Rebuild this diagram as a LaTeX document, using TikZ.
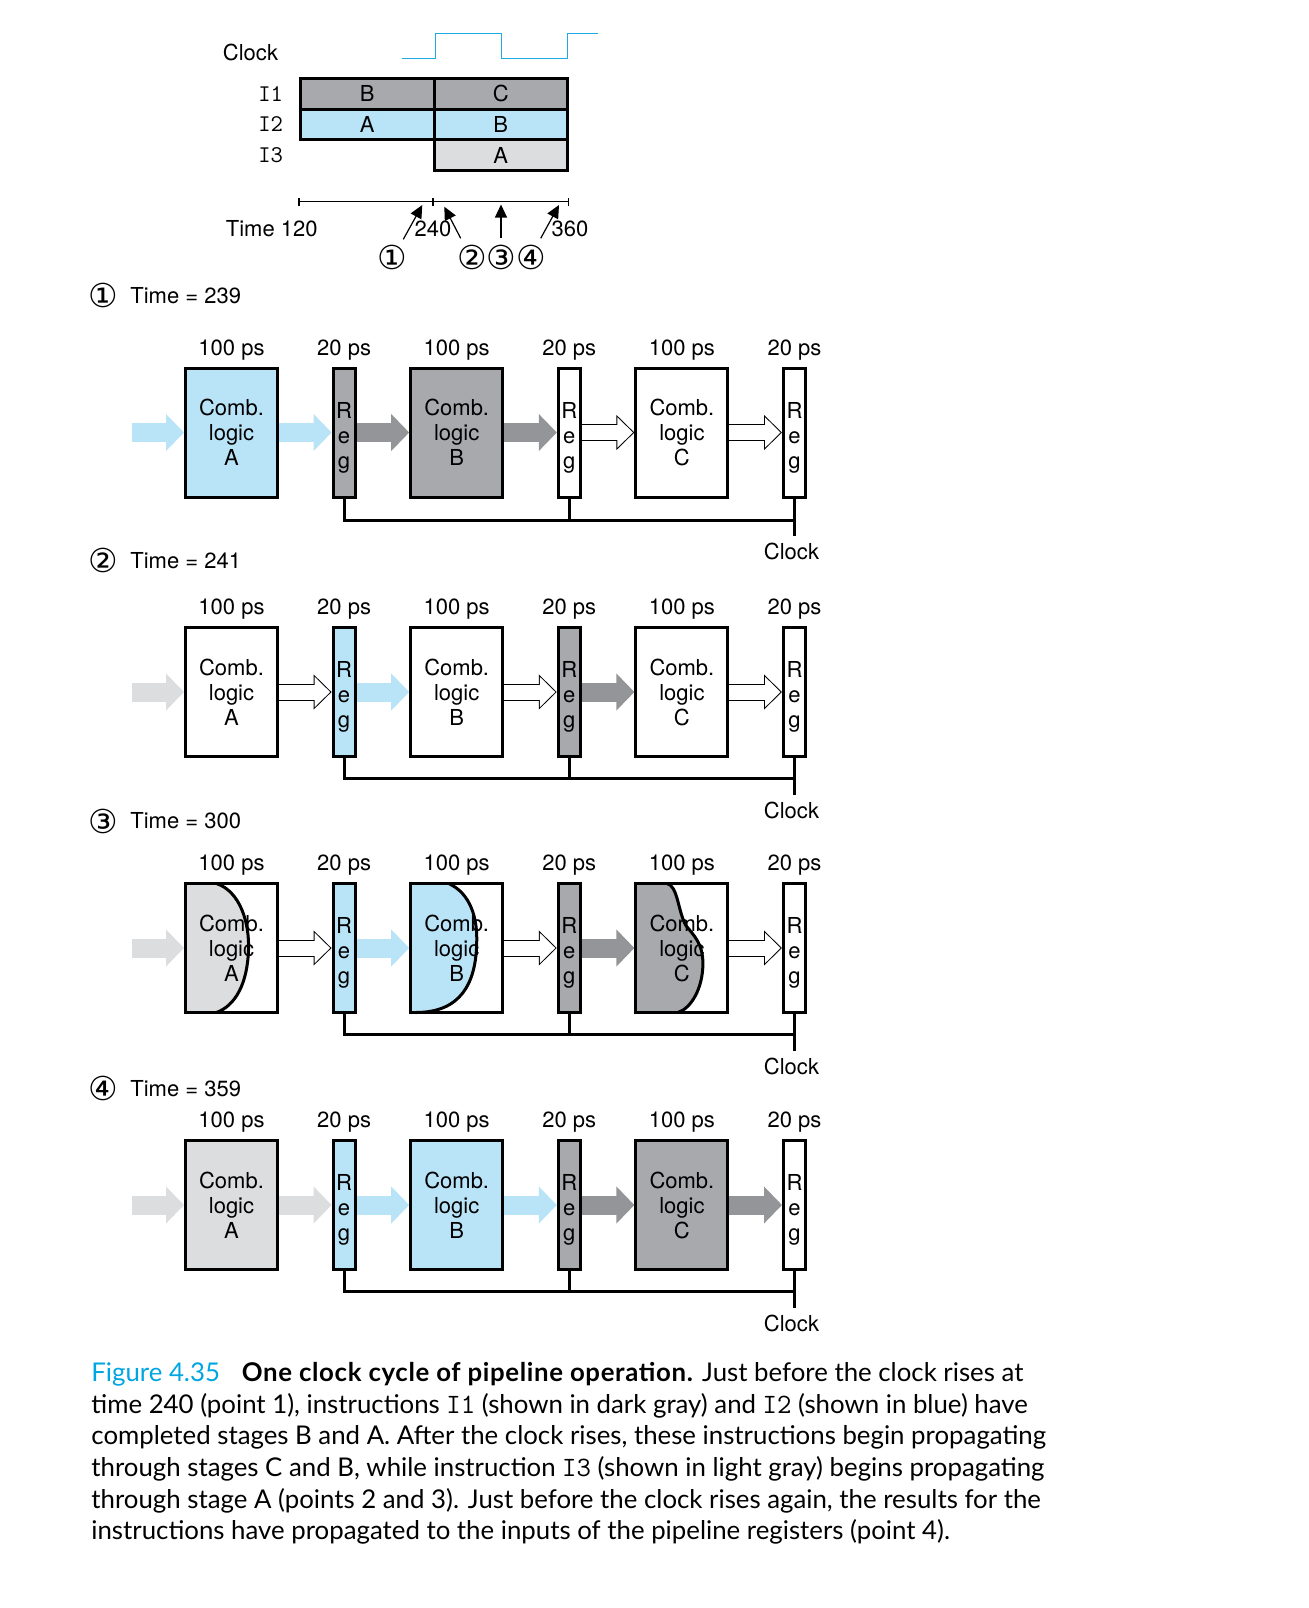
\documentclass[tikz,border=0pt]{standalone}
\usepackage{fontspec}
\setmainfont{TeX Gyre Heros}
\newfontfamily\capfont{Lato}
\newfontfamily\circfont{DejaVu Sans}
\usepackage{tikz}
\usetikzlibrary{positioning,arrows.meta,backgrounds}
\definecolor{lblue}{RGB}{185,228,248}
\definecolor{dgray}{RGB}{167,169,172}
\definecolor{darrow}{RGB}{147,149,152}
\definecolor{lgray}{RGB}{220,221,222}
\definecolor{wave}{RGB}{30,170,226}
\definecolor{figblue}{RGB}{0,166,226}
\newcommand{\insn}[1]{{\ttfamily\fontsize{14}{15.8}\selectfont #1}}
\newcommand{\regtxt}{\rule{0pt}{13pt}R\\e\\g}
\tikzstyle{lbl} = [inner sep=0pt, label distance=3pt]
\tikzstyle{comb} = [draw, rectangle, line width=1.5pt, fill=white, minimum width=46pt, minimum height=64.5pt, align=center, label={[lbl]above:100 ps}]
\tikzstyle{reg} = [draw, rectangle, line width=1.5pt, fill=white, minimum width=11pt, minimum height=64.5pt, inner sep=0pt, align=center, label={[lbl]above:20 ps}]
\tikzstyle{cell} = [draw, rectangle, line width=1.5pt, minimum width=66.75pt, minimum height=15.4pt, outer sep=0pt, inner sep=0pt]
\tikzstyle{instr} = [font=\ttfamily\fontsize{12}{12}\selectfont, inner sep=0pt]
\tikzstyle{circ} = [font=\circfont\fontsize{16.5}{16.5}\selectfont, inner sep=0pt]
\tikzstyle{ttl} = [anchor=base west, inner sep=0pt]
\tikzstyle{fblue} = [line width=9.5pt, lblue, -{Triangle[width=18pt,length=9pt]}]
\tikzstyle{fdark} = [line width=9.5pt, darrow, -{Triangle[width=18pt,length=9pt]}]
\tikzstyle{flight} = [line width=9.5pt, lgray, -{Triangle[width=18pt,length=9pt]}]
\tikzstyle{hollow} = [line width=8.5pt, black, -{Triangle[width=17pt,length=9pt]}, postaction={draw=white, line width=7.5pt, shorten >=0.73pt, -{Triangle[width=14.7pt,length=7.77pt]}}]
\tikzstyle{bus} = [line width=1.5pt]
\tikzstyle{axis} = [line width=0.6pt]
\tikzstyle{tarr} = [line width=0.6pt, -{Triangle[width=6pt,length=6.5pt]}]
\tikzstyle{clkname} = [xshift=-1.5pt]
\tikzstyle{capt} = [anchor=north west, align=left, inner sep=0pt, font=\capfont\fontsize{12.9}{15.8}\selectfont]
\tikzstyle{part} = [on background layer, xshift=0.75pt, yshift=-0.75pt]

\begin{document}
\begin{tikzpicture}[x=0.5pt, y=-0.5pt, font=\fontsize{11}{12.5}\selectfont]
    \useasboundingbox (0,0) rectangle (1308,1608);
    % timing of the three instructions
    \node (clklbl) at (250.5,52) {Clock};
    \draw[wave, line width=0.7pt] (402.3,58.3) -- (435.7,58.3) -- (435.7,33.3) -- (501.7,33.3) -- (501.7,58.3) -- (567.7,58.3) -- (567.7,33.3) -- (598,33.3);
    \node[cell, fill=dgray](I1B) at (367.25,93.65) {B};
    \node[cell, fill=dgray, right=0pt of I1B](I1C) {C};
    \node[cell, fill=lblue, below=0pt of I1B](I2A) {A};
    \node[cell, fill=lblue, right=0pt of I2A](I2B) {B};
    \node[cell, fill=lgray, below=0pt of I2B](I3A) {A};
    \node[instr, left=8.5pt of I1B](lI1) {I1};
    \node[instr, left=8.5pt of I2A](lI2) {I2};
    \node[instr, anchor=east](lI3) at (lI2.east |- I3A) {I3};
    \draw[axis] (299,198) -- (299,205.7) (299,201.7) -- (568.5,201.7) (433,198) -- (433,205.7) (568.5,198) -- (568.5,205.7);
    \node[anchor=base east, inner sep=0pt](t120) at (318,236) {Time 120};
    \node[anchor=base, inner sep=0pt](t240) at (433,236.5) {240};
    \node[anchor=base, inner sep=0pt](t360) at (570,236.5) {360};
    \coordinate (p1) at (403.3,239.3); \coordinate (q1) at (422.3,205);
    \coordinate (p2) at (460.7,238.3); \coordinate (q2) at (444.3,206.7);
    \coordinate (p3) at (501,238.3);   \coordinate (q3) at (501,204.5);
    \coordinate (p4) at (540.7,238.3); \coordinate (q4) at (559,205);
    \draw[tarr] (p1) -- (q1);
    \draw[tarr] (p2) -- (q2);
    \draw[tarr] (p3) -- (q3);
    \draw[tarr] (p4) -- (q4);
    \node[circ](n1) at (392,257.5) {①};
    \node[circ](n2) at (472,257.5) {②};
    \node[circ](n3) at (501.5,257.5) {③};
    \node[circ](n4) at (531,257.5) {④};

    % point 1
    \node[circ] at (103,295.5) {①};
    \node[ttl] at (130,303) {Time = 239};
    \node[comb, fill=lblue](A1) at (231.5,432.5) {Comb.\\logic\\A};
    \node[reg, fill=dgray, right=26.3pt of A1](RA1) {\regtxt};
    \node[comb, fill=dgray, right=26.3pt of RA1](B1) {Comb.\\logic\\B};
    \node[reg, right=26.3pt of B1](RB1) {\regtxt};
    \node[comb, right=26.3pt of RB1](C1) {Comb.\\logic\\C};
    \node[reg, right=26.3pt of C1](RC1) {\regtxt};
    \coordinate[left=26pt of A1](in1);
    \draw[fblue] (in1) -- (A1);
    \draw[fblue] (A1) -- (RA1);
    \draw[fdark] (RA1) -- (B1);
    \draw[fdark] (B1) -- (RB1);
    \draw[hollow] (RB1) -- (C1);
    \draw[hollow] (C1) -- (RC1);
    \coordinate[below=11pt of RA1](bus1);
    \coordinate[below=18.5pt of RC1](clk1);
    \draw[bus] (RA1) -- (bus1) -| (clk1);
    \draw[bus] (RB1) -- (RB1 |- bus1);
    \draw[bus] (RC1) -- (clk1);
    \node[clkname, below=0pt of clk1] {Clock};

    % point 2
    \node[circ] at (103,560.5) {②};
    \node[ttl] at (130,568) {Time = 241};
    \node[comb](A2) at (231.5,692) {Comb.\\logic\\A};
    \node[reg, fill=lblue, right=26.3pt of A2](RA2) {\regtxt};
    \node[comb, right=26.3pt of RA2](B2) {Comb.\\logic\\B};
    \node[reg, fill=dgray, right=26.3pt of B2](RB2) {\regtxt};
    \node[comb, right=26.3pt of RB2](C2) {Comb.\\logic\\C};
    \node[reg, right=26.3pt of C2](RC2) {\regtxt};
    \coordinate[left=26pt of A2](in2);
    \draw[flight] (in2) -- (A2);
    \draw[hollow] (A2) -- (RA2);
    \draw[fblue] (RA2) -- (B2);
    \draw[hollow] (B2) -- (RB2);
    \draw[fdark] (RB2) -- (C2);
    \draw[hollow] (C2) -- (RC2);
    \coordinate[below=10pt of RA2](bus2);
    \coordinate[below=18.5pt of RC2](clk2);
    \draw[bus] (RA2) -- (bus2) -| (clk2);
    \draw[bus] (RB2) -- (RB2 |- bus2);
    \draw[bus] (RC2) -- (clk2);
    \node[clkname, below=0pt of clk2] {Clock};

    % point 3
    \node[circ] at (103,821.5) {③};
    \node[ttl] at (130,828.5) {Time = 300};
    \node[comb, fill=none](A3) at (231.5,948) {Comb.\\logic\\A};
    \node[reg, fill=lblue, right=26.3pt of A3](RA3) {\regtxt};
    \node[comb, fill=none, right=26.3pt of RA3](B3) {Comb.\\logic\\B};
    \node[reg, fill=dgray, right=26.3pt of B3](RB3) {\regtxt};
    \node[comb, fill=none, right=26.3pt of RB3](C3) {Comb.\\logic\\C};
    \node[reg, right=26.3pt of C3](RC3) {\regtxt};
    % partly filled logic
    \begin{scope}[shift={(A3.north west)}, part]
        \fill[lgray] (0,0) -- (31,0) .. controls (55,8) and (64,40) .. (63,66) .. controls (62,100) and (50,122) .. (31,129) -- (0,129) -- cycle;
        \draw[bus] (31,0) .. controls (55,8) and (64,40) .. (63,66) .. controls (62,100) and (50,122) .. (31,129);
    \end{scope}
    \begin{scope}[shift={(B3.north west)}, part]
        \fill[lblue] (0,0) -- (38,0) .. controls (60,10) and (67,35) .. (66,60) .. controls (65,100) and (50,129) .. (5,129) -- (0,129) -- cycle;
        \draw[bus] (38,0) .. controls (60,10) and (67,35) .. (66,60) .. controls (65,100) and (50,129) .. (5,129);
    \end{scope}
    \begin{scope}[shift={(C3.north west)}, part]
        \fill[dgray] (0,0) -- (31,0) .. controls (42,2) and (42,28) .. (50,42) .. controls (58,52) and (67,60) .. (67,80) .. controls (67,105) and (55,125) .. (42,129) -- (0,129) -- cycle;
        \draw[bus] (31,0) .. controls (42,2) and (42,28) .. (50,42) .. controls (58,52) and (67,60) .. (67,80) .. controls (67,105) and (55,125) .. (42,129);
    \end{scope}
    \coordinate[left=26pt of A3](in3);
    \draw[flight] (in3) -- (A3);
    \draw[hollow] (A3) -- (RA3);
    \draw[fblue] (RA3) -- (B3);
    \draw[hollow] (B3) -- (RB3);
    \draw[fdark] (RB3) -- (C3);
    \draw[hollow] (C3) -- (RC3);
    \coordinate[below=10pt of RA3](bus3);
    \coordinate[below=18.5pt of RC3](clk3);
    \draw[bus] (RA3) -- (bus3) -| (clk3);
    \draw[bus] (RB3) -- (RB3 |- bus3);
    \draw[bus] (RC3) -- (clk3);
    \node[clkname, below=0pt of clk3] {Clock};

    % point 4
    \node[circ] at (103,1088.5) {④};
    \node[ttl] at (130,1096) {Time = 359};
    \node[comb, fill=lgray](A4) at (231.5,1205) {Comb.\\logic\\A};
    \node[reg, fill=lblue, right=26.3pt of A4](RA4) {\regtxt};
    \node[comb, fill=lblue, right=26.3pt of RA4](B4) {Comb.\\logic\\B};
    \node[reg, fill=dgray, right=26.3pt of B4](RB4) {\regtxt};
    \node[comb, fill=dgray, right=26.3pt of RB4](C4) {Comb.\\logic\\C};
    \node[reg, right=26.3pt of C4](RC4) {\regtxt};
    \coordinate[left=26pt of A4](in4);
    \draw[flight] (in4) -- (A4);
    \draw[flight] (A4) -- (RA4);
    \draw[fblue] (RA4) -- (B4);
    \draw[fblue] (B4) -- (RB4);
    \draw[fdark] (RB4) -- (C4);
    \draw[fdark] (C4) -- (RC4);
    \coordinate[below=10pt of RA4](bus4);
    \coordinate[below=18.5pt of RC4](clk4);
    \draw[bus] (RA4) -- (bus4) -| (clk4);
    \draw[bus] (RB4) -- (RB4 |- bus4);
    \draw[bus] (RC4) -- (clk4);
    \node[clkname, below=0pt of clk4] {Clock};

    % caption
    \node[capt](cap) at (91,1362) {\textcolor{figblue}{Figure 4.35}\hspace{0.85em}\textbf{\addfontfeatures{LetterSpace=2.5}One clock cycle of pipeline operation.} Just before the clock rises at\\
    time 240 (point 1), instructions \insn{I1} (shown in dark gray) and \insn{I2} (shown in blue) have\\
    completed stages B and A. After the clock rises, these instructions begin propagating\\
    through stages C and B, while instruction \insn{I3} (shown in light gray) begins propagating\\
    through stage A (points 2 and 3). Just before the clock rises again, the results for the\\
    instructions have propagated to the inputs of the pipeline registers (point 4).};
\end{tikzpicture}
\end{document}
